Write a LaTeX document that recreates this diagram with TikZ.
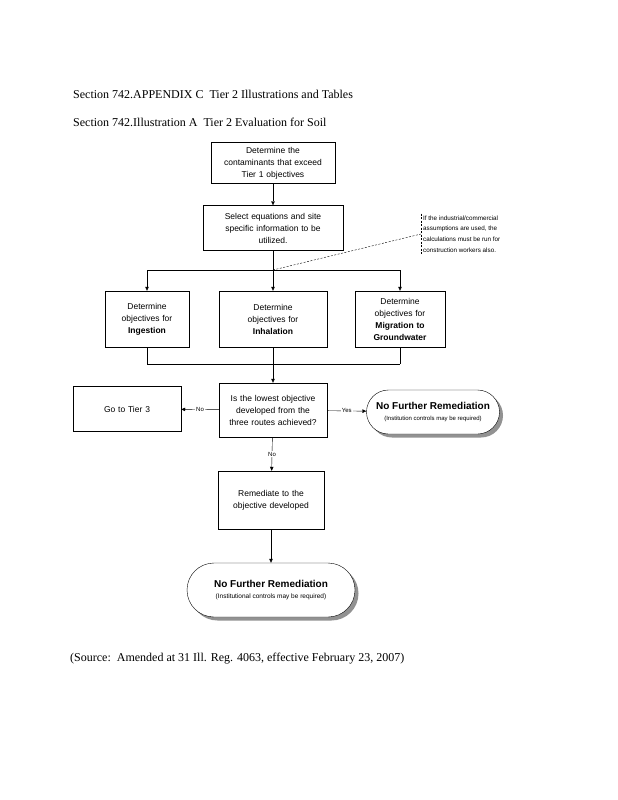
\documentclass[tikz,border=0pt]{standalone}
\usepackage{fontspec}
\setmainfont{Liberation Serif}
\setsansfont{Liberation Sans}
\usetikzlibrary{positioning,arrows.meta,shadows,shapes.misc}
\begin{document}
\begin{tikzpicture}[x=1pt,y=-1pt,
    title/.style={anchor=base west,inner sep=0pt,font=\fontsize{12}{14}\selectfont},
    stepbox/.style={draw,thin,align=center,inner sep=2pt,font=\sffamily\fontsize{8.5}{12}\selectfont},
    endbox/.style={draw,thin,rounded rectangle,align=center,inner sep=1pt,fill=white,
        drop shadow={shadow xshift=3.5pt,shadow yshift=-3.5pt,fill=black!85}},
    flow/.style={thin,-{Triangle[length=4pt,width=3.5pt]}},
    lbl/.style={fill=white,inner sep=1pt,font=\sffamily\fontsize{6}{7}\selectfont},
    notelink/.style={thin,dash pattern=on 2pt off 1.5pt}]
\useasboundingbox (0,0) rectangle (618,800);
% headings
\node[title] (head) at (73,98) {Section 742.APPENDIX C\ \ Tier 2 Illustrations and Tables};
\node[title] (subhead) at (73,126) {Section 742.Illustration A\ \ Tier 2 Evaluation for Soil};
% steps
\node[stepbox,text width=120pt,minimum height=41pt] (contam) at (273,163) {Determine the\\ contaminants that exceed\\ Tier 1 objectives};
\node[stepbox,text width=136pt,minimum height=45pt] (select) at (273,228) {Select equations and site\\ specific information to be\\ utilized.};
\node[stepbox,text width=80pt,minimum height=56pt] (ingest) at (147,319) {Determine\\ objectives for\\ \textbf{Ingestion}};
\node[stepbox,text width=104pt,minimum height=56pt] (inhal) at (273,319) {Determine\\ objectives for\\ \textbf{Inhalation}};
\node[stepbox,text width=86pt,minimum height=56pt] (migr) at (400,319) {Determine\\ objectives for\\ \textbf{Migration to}\\ \textbf{Groundwater}};
\node[stepbox,text width=104pt,minimum height=54pt] (decide) at (273,410) {Is the lowest objective\\ developed from the\\ three routes achieved?};
\node[stepbox,text width=104pt,minimum height=45pt] (tier3) at (127,409) {Go to Tier 3};
\node[stepbox,text width=102pt,minimum height=58pt] (remed) at (271,500) {Remediate to the\\ objective developed};
\node[endbox,minimum width=135pt,minimum height=44pt] (nfrA) at (433,412) {{\sffamily\bfseries\fontsize{10}{12}\selectfont No Further Remediation}\\[-1pt] {\sffamily\fontsize{6}{8}\selectfont (Institution controls may be required)}};
\node[endbox,minimum width=170pt,minimum height=54pt] (nfrB) at (271,590) {{\sffamily\bfseries\fontsize{10}{12}\selectfont No Further Remediation}\\[-1pt] {\sffamily\fontsize{6.5}{8}\selectfont (Institutional controls may be required)}};
% side note
\node[anchor=west,align=left,inner sep=2pt,font=\sffamily\fontsize{6.3}{10.6}\selectfont] (note) at (421,234) {If the industrial/commercial\\ assumptions are used, the\\ calculations must be run for\\ construction workers also.};
\draw[notelink] (note.north west) -- (note.south west);
% connectors
\coordinate (split) at (273,270);
\coordinate (join) at (273,364);
\draw[flow] (contam) -- (select);
\draw[thin] (select) -- (split);
\draw[thin] (ingest.north |- split) -- (migr.north |- split);
\draw[flow] (ingest.north |- split) -- (ingest);
\draw[flow] (split) -- (inhal);
\draw[flow] (migr.north |- split) -- (migr);
\draw[notelink] (split) -- (note.west);
\draw[thin] (ingest) -- (ingest.south |- join);
\draw[thin] (inhal) -- (join);
\draw[thin] (migr) -- (migr.south |- join);
\draw[thin] (ingest.south |- join) -- (migr.south |- join);
\draw[flow] (join) -- (decide);
\draw[flow] (decide) -- node[lbl] {No} (tier3);
\draw[flow] (decide) -- node[lbl] {Yes} (nfrA);
\draw[flow] (decide) -- node[lbl] {No} (remed);
\draw[flow] (remed) -- (nfrB);
% source
\node[title] (source) at (70,661) {(Source:\ \ Amended at 31 Ill. Reg. 4063, effective February 23, 2007)};
\end{tikzpicture}
\end{document}
